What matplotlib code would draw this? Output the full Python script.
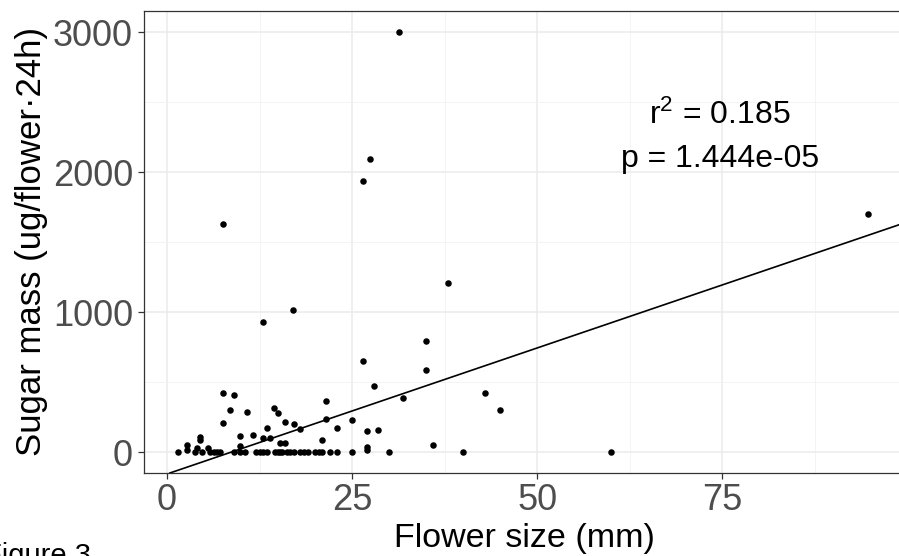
import matplotlib

matplotlib.use("Agg")
import matplotlib.pyplot as plt
from matplotlib.ticker import MultipleLocator

plt.rcParams["font.family"] = ["Liberation Sans", "DejaVu Sans"]
plt.rcParams["mathtext.fontset"] = "custom"
plt.rcParams["mathtext.rm"] = "Liberation Sans"
plt.rcParams["mathtext.it"] = "Liberation Sans"

# flower size (mm) vs sugar mass (ug/flower/24h)
flower_size = [
    1.5, 3.8, 5.8, 6.4, 7.1, 9.05, 9.9, 10.5, 12.0, 12.5, 13.0, 13.5,
    14.6, 15.0, 15.3, 15.6, 16.2, 16.6, 17.1, 18.0, 18.5, 19.0, 20.0,
    20.5, 21.0, 22.0, 23.0, 25.0, 30.0, 40.0, 60.0, 4.7, 6.8,
    2.7, 2.7, 4.1, 4.5, 4.5, 5.5, 7.5, 9.0, 7.5, 8.5, 9.9, 9.9, 10.8,
    11.6, 13.5, 13.0, 13.9, 14.5, 15.0, 15.3, 15.9, 15.9, 17.1, 18.0,
    21.0, 21.5, 21.5, 22.9, 25.0, 26.5, 28.0, 27.0, 28.5, 27.0, 27.0,
    31.9, 35.0, 35.0, 35.9, 38.0, 43.0, 45.0, 7.6, 13.0, 17.0, 26.5,
    27.4, 31.4, 94.7,
]
sugar_mass = [
    0, 0, 0, 0, 0, 0, 0, 0, 0, 0, 0, 0,
    0, 0, 0, 0, 0, 0, 0, 0, 0, 0, 0,
    0, 0, 0, 0, 0, 0, 0, 0, 0, 0,
    50, 15, 26, 110, 86, 26, 424, 407, 205, 300, 114, 45, 283,
    121, 169, 98, 98, 317, 276, 67, 67, 217, 200, 164,
    86, 364, 236, 169, 229, 652, 474, 152, 157, 33, 14,
    388, 793, 586, 50, 1207, 418, 300, 1627, 928, 1012, 1936,
    2093, 3000, 1700,
]

# linear fit shown on the figure
fit_intercept = -157.0
fit_slope = 18.0
r_squared = "0.185"
p_value = "1.444e-05"

x_ticks = [0, 25, 50, 75]
y_ticks = [0, 1000, 2000, 3000]

fig = plt.figure(figsize=(8.99, 5.56), dpi=100)
# panel runs a little past the right edge, as in the (cropped) original
ax = fig.add_axes([144 / 899, 83 / 556, 761 / 899, 462 / 556])

ax.set_xlim(-3.11, 99.7)
ax.set_ylim(-150, 3150)

ax.xaxis.set_minor_locator(MultipleLocator(12.5))
ax.yaxis.set_minor_locator(MultipleLocator(500))
ax.grid(which="major", color="#EBEBEB", lw=1.1, zorder=0)
ax.grid(which="minor", color="#F2F2F2", lw=0.6, zorder=0)
ax.set_axisbelow(True)

ax.axline((0, fit_intercept), slope=fit_slope, color="black", lw=1.2, zorder=2)
ax.scatter(flower_size, sugar_mass, s=22, color="black", zorder=3, linewidths=0)

ax.set_xticks(x_ticks)
ax.set_yticks(y_ticks)
ax.tick_params(which="major", labelsize=26, labelcolor="#4D4D4D", color="#333333",
               length=4, width=0.9)
ax.tick_params(axis="x", pad=3.5)
ax.tick_params(axis="y", pad=4)
ax.tick_params(which="minor", length=0)
for s in ax.spines.values():
    s.set_color("#333333")
    s.set_linewidth(0.9)

ax.set_xlabel("Flower size (mm)", fontsize=24.5, labelpad=3)
ax.set_ylabel("Sugar mass (ug/flower\u00b724h)", fontsize=25, labelpad=3)

ax.text(74.7, 2340, r"r$^{2}$ = " + r_squared, fontsize=23, ha="center", va="baseline")
ax.text(74.7, 2035, "p = " + p_value, fontsize=23, ha="center", va="baseline")

# caption is cut off at the bottom-left in the original
fig.text(-16 / 899, -8 / 556, "Figure 3", fontsize=21, ha="left", va="baseline")

fig.savefig("out.png", dpi=100)
